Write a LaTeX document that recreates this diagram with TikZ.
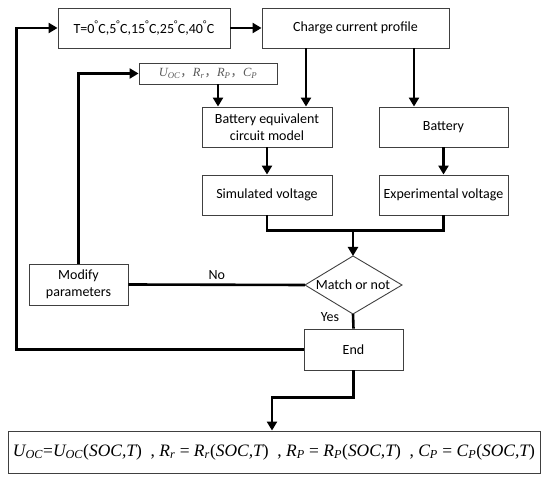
\documentclass[tikz,border=0pt]{standalone}
\usepackage{fontspec}
\setmainfont{Carlito}
\newfontfamily\serifit{Liberation Serif}
\newfontfamily\cjkf{Noto Sans CJK SC}
\usetikzlibrary{shapes.geometric,arrows.meta,calc}
\begin{document}
\begin{tikzpicture}[x=1pt,y=-1pt,
  box/.style={draw=black!75,line width=0.9pt,rectangle,inner sep=0pt,align=center,font=\fontsize{14}{16.5}\selectfont},
  conn/.style={line width=2.6pt,draw=black},
  arr/.style={conn,-{Triangle[length=9pt,width=10pt]}},
  lab/.style={font=\fontsize{14}{16}\selectfont}]
\useasboundingbox (0,0) rectangle (550,478);
\node[box,minimum width=172pt,minimum height=40pt] (T) at (144,28) {T=0\textsuperscript{°}C,5\textsuperscript{°}C,15\textsuperscript{°}C,25\textsuperscript{°}C,40\textsuperscript{°}C};
\node[box,minimum width=187pt,minimum height=40pt] (charge) at (355.5,28) {Charge current profile};
\node[box,minimum width=138pt,minimum height=21pt,text=black!65] (params) at (208,73.5) {\fontsize{12.5}{13}\selectfont\serifit\itshape U\textsubscript{OC}{\cjkf\upshape ，}R\textsubscript{r}{\cjkf\upshape ，}R\textsubscript{P}{\cjkf\upshape ，}C\textsubscript{P}};
\node[box,minimum width=130pt,minimum height=40pt] (ecm) at (267,127) {Battery equivalent\\circuit model};
\node[box,minimum width=129pt,minimum height=40pt] (bat) at (443.5,127) {Battery};
\node[box,minimum width=130pt,minimum height=40pt] (sim) at (267,195) {Simulated voltage};
\node[box,minimum width=129pt,minimum height=40pt] (exp) at (443.5,195) {Experimental voltage};
% decision diamond
\coordinate (mN) at (353,256);
\coordinate (mS) at (353,314);
\coordinate (mW) at (305,285);
\coordinate (mE) at (402,285);
\draw[draw=black!75,line width=0.9pt] (mN) -- (mE) -- (mS) -- (mW) -- cycle;
\node[lab] (match) at (353,285) {Match or not};
\node[box,minimum width=99pt,minimum height=41pt] (modify) at (78.5,284.5) {Modify\\parameters};
\node[box,minimum width=99pt,minimum height=41pt] (end) at (353.5,349.5) {End};
\node[box,minimum width=532pt,minimum height=42pt] (formula) at (274,452) {\resizebox{522pt}{!}{\serifit\itshape U\textsubscript{OC}{\upshape =}U\textsubscript{OC}{\upshape (}SOC,T{\upshape )}\ \ {\upshape ,} R\textsubscript{r} {\upshape =} R\textsubscript{r}{\upshape (}SOC,T{\upshape )}\ \ {\upshape ,} R\textsubscript{P} {\upshape =} R\textsubscript{P}{\upshape (}SOC,T{\upshape )}\ \ {\upshape ,} C\textsubscript{P} {\upshape =} C\textsubscript{P}{\upshape (}SOC,T{\upshape )}}};
\coordinate (ecmA) at ([xshift=39pt]ecm.north);
\coordinate (ecmB) at ([xshift=-49pt]ecm.north);
\coordinate (batA) at ([xshift=-29.5pt]bat.north);
\coordinate (jy) at ($(sim.south)+(0,15)$);
\draw[arr] (T.east) -- (charge.west);
\draw[arr] (charge.south -| ecmA) -- (ecmA);
\draw[arr] (charge.south -| batA) -- (batA);
\draw[arr] (params.south -| ecmB) -- (ecmB);
\draw[arr] (ecm.south) -- (sim.north);
\draw[arr] (bat.south) -- (exp.north);
\draw[conn] (sim.south) -- (jy) -| (exp.south);
\draw[arr] (mN |- jy) -- (mN);
\draw[conn] (mW) -- node[lab,above=1pt] {No} (modify.east);
\draw[arr] (modify.north) |- (params.west);
\draw[conn] (mS) -- (end.north);
\node[lab] (yes) at (330,317) {Yes};
\draw[arr] (end.west) -- ++(-287,0) |- (T.west);
\draw[arr] (end.south) -- ++(0,27) -| ([xshift=-2pt]formula.north);
\end{tikzpicture}
\end{document}
